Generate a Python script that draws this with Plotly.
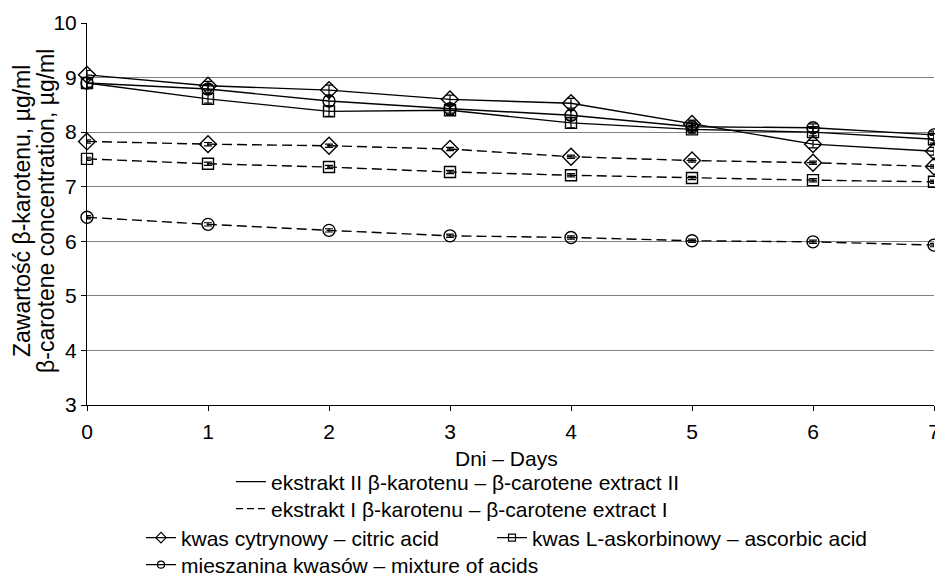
import plotly.graph_objects as go

days = [0, 1, 2, 3, 4, 5, 6, 7]

# extract II (solid lines)
ext2_citric = [9.05, 8.85, 8.77, 8.60, 8.53, 8.15, 7.78, 7.65]
ext2_ascorbic = [8.90, 8.61, 8.38, 8.40, 8.17, 8.05, 8.00, 7.87]
ext2_mixture = [8.90, 8.79, 8.57, 8.43, 8.31, 8.10, 8.08, 7.95]
# extract I (dashed lines)
ext1_citric = [7.83, 7.78, 7.75, 7.69, 7.55, 7.48, 7.44, 7.37]
ext1_ascorbic = [7.51, 7.42, 7.36, 7.27, 7.21, 7.16, 7.12, 7.09]
ext1_mixture = [6.44, 6.31, 6.20, 6.10, 6.07, 6.01, 5.99, 5.93]

# error bar half-widths
err_ext2 = [0.08, 0.08, 0.09, 0.08, 0.09, 0.07, 0.07, 0.07]
err_ext1 = [0.03, 0.03, 0.03, 0.03, 0.03, 0.03, 0.03, 0.03]

legend_labels = [
    "ekstrakt II β-karotenu – β-carotene extract II",
    "ekstrakt I β-karotenu – β-carotene extract I",
    "kwas cytrynowy – citric acid",
    "kwas L-askorbinowy – ascorbic acid",
    "mieszanina kwasów – mixture of acids",
]
y_title_lines = ["Zawartość β-karotenu, µg/ml", "β-carotene concentration, µg/ml"]
x_title = "Dni – Days"

FONT = "Liberation Sans, Arial, sans-serif"
FS = 21

fig = go.Figure()

series = [
    (ext2_citric, "diamond-open", "solid", err_ext2, 13),
    (ext2_ascorbic, "square-open", "solid", err_ext2, 11),
    (ext2_mixture, "circle-open", "solid", err_ext2, 12),
    (ext1_citric, "diamond-open", "10px,5px", err_ext1, 13),
    (ext1_ascorbic, "square-open", "10px,5px", err_ext1, 11),
    (ext1_mixture, "circle-open", "10px,5px", err_ext1, 12),
]
for vals, sym, dash, err, sz in series:
    fig.add_trace(go.Scatter(
        x=days, y=vals, mode="lines+markers",
        line=dict(color="black", width=1.4, dash=dash),
        marker=dict(symbol=sym, size=sz, color="black", line=dict(width=1.4, color="black")),
        error_y=dict(type="data", array=err, visible=True, color="black", thickness=1.2, width=4),
        showlegend=False, cliponaxis=False,
    ))

# page geometry (the page body adds an 8px offset)
OFF = 8
PX0, PX1, PY0, PY1 = 87, 934, 23, 405   # plot area in page pixels
W, H = 943 - OFF, 583 - OFF
L, T = PX0 - OFF, PY0 - OFF
R, B = W - (PX1 - OFF), H - (PY1 - OFF)
pw, ph = PX1 - PX0, PY1 - PY0


def px_x(p):
    return (p - PX0) / pw


def px_y(p):
    return (PY1 - p) / ph


# legend entries (dummy traces): label, style, legend id, text-left x px, row centre y px
leg_specs = [
    (legend_labels[0], dict(mode="lines", line=dict(color="black", width=1.2)), "legend", 272, 483),
    (legend_labels[1], dict(mode="lines", line=dict(color="black", width=1.2, dash="7px,4px")), "legend2", 272, 510),
    (legend_labels[2], dict(mode="lines+markers", line=dict(color="black", width=1.2),
                            marker=dict(symbol="diamond-open", size=8, color="black", line=dict(width=1.2))), "legend3", 182, 539),
    (legend_labels[3], dict(mode="lines+markers", line=dict(color="black", width=1.2),
                            marker=dict(symbol="square-open", size=7, color="black", line=dict(width=1.2))), "legend4", 533, 539),
    (legend_labels[4], dict(mode="lines+markers", line=dict(color="black", width=1.2),
                            marker=dict(symbol="circle-open", size=7, color="black", line=dict(width=1.2))), "legend5", 182, 566),
]

layout_legends = {}
for name, style, lg, tx, ty in leg_specs:
    fig.add_trace(go.Scatter(x=[None], y=[None], name=name, legend=lg, showlegend=True, **style))
    layout_legends[lg] = dict(
        x=px_x(tx - 41), y=px_y(ty - 1), xanchor="left", yanchor="middle",
        bgcolor="rgba(0,0,0,0)", borderwidth=0, font=dict(family=FONT, size=FS, color="black"),
        itemclick=False, itemdoubleclick=False,
    )

YT_FS = 23
annotations = [
    dict(text=y_title_lines[0], textangle=-90, xref="paper", yref="paper",
         x=px_x(22), y=px_y(211), xanchor="center", yanchor="middle", showarrow=False,
         font=dict(family=FONT, size=YT_FS, color="black")),
    dict(text=y_title_lines[1], textangle=-90, xref="paper", yref="paper",
         x=px_x(46), y=px_y(211), xanchor="center", yanchor="middle", showarrow=False,
         font=dict(family=FONT, size=YT_FS, color="black")),
    dict(text=x_title, xref="paper", yref="paper",
         x=px_x(506), y=px_y(458), xanchor="center", yanchor="middle", showarrow=False,
         font=dict(family=FONT, size=FS, color="black")),
]

fig.update_layout(
    width=W, height=H,
    margin=dict(l=L, r=R, t=T, b=B, autoexpand=False),
    paper_bgcolor="white", plot_bgcolor="white",
    font=dict(family=FONT, size=FS, color="black"),
    annotations=annotations,
    xaxis=dict(
        range=[0, 7], dtick=1, showgrid=False, zeroline=False, automargin=False,
        showline=True, linecolor="black", linewidth=1,
        ticks="outside", ticklen=5, tickcolor="black", ticklabelstandoff=3,
        tickfont=dict(size=FS),
    ),
    yaxis=dict(
        range=[3, 10], dtick=1, showgrid=True, gridcolor="#808080", gridwidth=1,
        zeroline=False, showline=True, linecolor="black", linewidth=1, automargin=False,
        ticks="outside", ticklen=5, tickcolor="black",
        tickfont=dict(size=FS),
    ),
    **layout_legends,
)

fig.write_html("out.html")
